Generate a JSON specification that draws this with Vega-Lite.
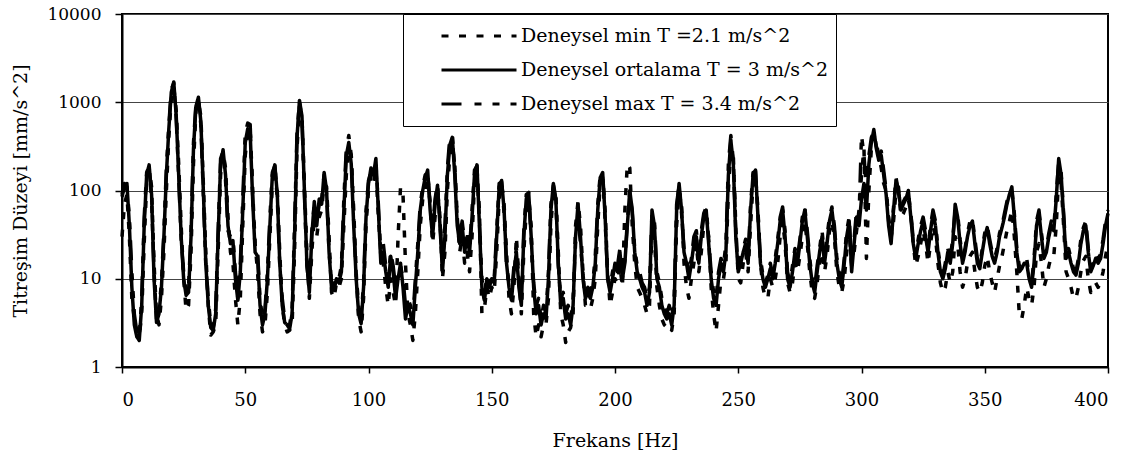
{
  "$schema": "https://vega.github.io/schema/vega-lite/v6.json",
  "width": 986,
  "height": 353,
  "autosize": {"type": "none"},
  "padding": {"left": 122, "top": 14, "right": 25, "bottom": 98},
  "background": "white",
  "config": {
    "font": "DejaVu Serif",
    "view": {"stroke": "black", "strokeWidth": 2},
    "axis": {
      "labelFont": "DejaVu Serif",
      "titleFont": "DejaVu Serif",
      "labelColor": "black",
      "titleColor": "black",
      "titleFontWeight": "normal",
      "domainColor": "black",
      "domainWidth": 2,
      "tickColor": "black",
      "tickWidth": 1.5
    }
  },
  "data": {
    "values": [
      {"f":0,"a":30,"b":85,"c":90},{"f":1,"a":70,"b":110,"c":120},{"f":2,"a":90,"b":120,"c":110},{"f":3,"a":30,"b":40,"c":50},{"f":4,"a":6,"b":8,"c":12},
      {"f":5,"a":3.5,"b":3,"c":4},{"f":6,"a":2.5,"b":2.2,"c":2.5},{"f":7,"a":2.2,"b":2,"c":2.2},{"f":8,"a":4,"b":5,"c":6},{"f":9,"a":25,"b":40,"c":50},
      {"f":10,"a":120,"b":150,"c":160},{"f":11,"a":180,"b":195,"c":190},{"f":12,"a":110,"b":90,"c":80},{"f":13,"a":15,"b":10,"c":12},{"f":14,"a":4,"b":3.2,"c":3.5},
      {"f":15,"a":3,"b":4,"c":4.5},{"f":16,"a":6,"b":8,"c":9},{"f":17,"a":20,"b":30,"c":35},{"f":18,"a":100,"b":150,"c":180},{"f":19,"a":400,"b":500,"c":550},
      {"f":20,"a":1100,"b":1300,"c":1400},{"f":21,"a":1500,"b":1700,"c":1650},{"f":22,"a":800,"b":700,"c":650},{"f":23,"a":200,"b":150,"c":140},{"f":24,"a":40,"b":30,"c":28},
      {"f":25,"a":10,"b":10,"c":12},{"f":26,"a":4.4,"b":6.5,"c":7},{"f":27,"a":5,"b":7,"c":8},{"f":28,"a":20,"b":30,"c":35},{"f":29,"a":200,"b":300,"c":350},
      {"f":30,"a":800,"b":900,"c":950},{"f":31,"a":1000,"b":1140,"c":1100},{"f":32,"a":700,"b":600,"c":550},{"f":33,"a":120,"b":100,"c":90},{"f":34,"a":20,"b":15,"c":14},
      {"f":35,"a":5,"b":5,"c":6},{"f":36,"a":2.3,"b":2.8,"c":3},{"f":37,"a":2.5,"b":2.6,"c":2.8},{"f":38,"a":3,"b":4,"c":4.5},{"f":39,"a":20,"b":30,"c":35},
      {"f":40,"a":150,"b":200,"c":230},{"f":41,"a":270,"b":290,"c":280},{"f":42,"a":180,"b":150,"c":130},{"f":43,"a":50,"b":40,"c":35},{"f":44,"a":20,"b":25,"c":30},
      {"f":45,"a":15,"b":27,"c":30},{"f":46,"a":6,"b":10,"c":12},{"f":47,"a":3,"b":5.7,"c":6},{"f":48,"a":6,"b":12,"c":15},{"f":49,"a":40,"b":60,"c":80},
      {"f":50,"a":250,"b":350,"c":450},{"f":51,"a":450,"b":500,"c":580},{"f":52,"a":500,"b":450,"c":560},{"f":53,"a":100,"b":80,"c":90},{"f":54,"a":25,"b":20,"c":22},
      {"f":55,"a":12,"b":18,"c":20},{"f":56,"a":4,"b":5,"c":6},{"f":57,"a":2.5,"b":3,"c":3.5},{"f":58,"a":3,"b":4,"c":4.5},{"f":59,"a":7,"b":10,"c":12},
      {"f":60,"a":30,"b":40,"c":50},{"f":61,"a":120,"b":150,"c":160},{"f":62,"a":180,"b":195,"c":190},{"f":63,"a":100,"b":90,"c":80},{"f":64,"a":20,"b":15,"c":14},
      {"f":65,"a":5,"b":5,"c":6},{"f":66,"a":3,"b":3.2,"c":3.5},{"f":67,"a":2.5,"b":3,"c":3.2},{"f":68,"a":2.6,"b":2.7,"c":3},{"f":69,"a":3,"b":4,"c":4.5},
      {"f":70,"a":20,"b":30,"c":40},{"f":71,"a":300,"b":400,"c":450},{"f":72,"a":900,"b":1050,"c":1000},{"f":73,"a":700,"b":700,"c":650},{"f":74,"a":120,"b":100,"c":90},
      {"f":75,"a":20,"b":15,"c":14},{"f":76,"a":6,"b":7,"c":8},{"f":77,"a":20,"b":30,"c":35},{"f":78,"a":50,"b":75,"c":70},{"f":79,"a":30,"b":40,"c":45},
      {"f":80,"a":50,"b":80,"c":70},{"f":81,"a":60,"b":70,"c":80},{"f":82,"a":120,"b":160,"c":150},{"f":83,"a":110,"b":100,"c":90},{"f":84,"a":30,"b":20,"c":20},
      {"f":85,"a":7,"b":8,"c":9},{"f":86,"a":6,"b":7.5,"c":8},{"f":87,"a":9,"b":10,"c":11},{"f":88,"a":8,"b":9,"c":10},{"f":89,"a":10,"b":12,"c":14},
      {"f":90,"a":40,"b":60,"c":80},{"f":91,"a":150,"b":250,"c":300},{"f":92,"a":300,"b":350,"c":420},{"f":93,"a":250,"b":200,"c":250},{"f":94,"a":60,"b":40,"c":45},
      {"f":95,"a":12,"b":10,"c":11},{"f":96,"a":3.5,"b":4,"c":5},{"f":97,"a":2.5,"b":3.1,"c":3.5},{"f":98,"a":6,"b":8,"c":9},{"f":99,"a":40,"b":50,"c":60},
      {"f":100,"a":100,"b":120,"c":130},{"f":101,"a":150,"b":180,"c":160},{"f":102,"a":120,"b":150,"c":180},{"f":103,"a":180,"b":230,"c":200},{"f":104,"a":50,"b":60,"c":70},
      {"f":105,"a":20,"b":15,"c":18},{"f":106,"a":15,"b":20,"c":25},{"f":107,"a":8,"b":12,"c":14},{"f":108,"a":5,"b":8,"c":10},{"f":109,"a":10,"b":18,"c":20},
      {"f":110,"a":7,"b":12,"c":14},{"f":111,"a":5,"b":6,"c":8},{"f":112,"a":30,"b":10,"c":12},{"f":113,"a":110,"b":15,"c":14},{"f":114,"a":90,"b":8,"c":10},
      {"f":115,"a":15,"b":3.5,"c":5},{"f":116,"a":4,"b":5,"c":6},{"f":117,"a":3,"b":4,"c":5},{"f":118,"a":2,"b":3,"c":3.5},{"f":119,"a":4,"b":8,"c":10},
      {"f":120,"a":12,"b":20,"c":25},{"f":121,"a":40,"b":60,"c":70},{"f":122,"a":80,"b":100,"c":110},{"f":123,"a":100,"b":140,"c":150},{"f":124,"a":150,"b":170,"c":160},
      {"f":125,"a":70,"b":60,"c":70},{"f":126,"a":25,"b":30,"c":35},{"f":127,"a":50,"b":70,"c":80},{"f":128,"a":100,"b":115,"c":120},{"f":129,"a":50,"b":40,"c":45},
      {"f":130,"a":10,"b":12,"c":15},{"f":131,"a":20,"b":30,"c":40},{"f":132,"a":100,"b":150,"c":180},{"f":133,"a":250,"b":330,"c":400},{"f":134,"a":350,"b":400,"c":430},
      {"f":135,"a":200,"b":150,"c":180},{"f":136,"a":50,"b":40,"c":45},{"f":137,"a":20,"b":25,"c":30},{"f":138,"a":30,"b":40,"c":45},{"f":139,"a":15,"b":20,"c":25},
      {"f":140,"a":20,"b":30,"c":35},{"f":141,"a":12,"b":20,"c":22},{"f":142,"a":30,"b":50,"c":60},{"f":143,"a":120,"b":150,"c":170},{"f":144,"a":180,"b":195,"c":190},
      {"f":145,"a":60,"b":40,"c":45},{"f":146,"a":4,"b":8,"c":10},{"f":147,"a":4.5,"b":5.7,"c":6},{"f":148,"a":8,"b":10,"c":11},{"f":149,"a":6,"b":8,"c":9},
      {"f":150,"a":8,"b":10,"c":11},{"f":151,"a":7,"b":9,"c":10},{"f":152,"a":20,"b":30,"c":35},{"f":153,"a":80,"b":110,"c":120},{"f":154,"a":120,"b":130,"c":125},
      {"f":155,"a":70,"b":60,"c":55},{"f":156,"a":20,"b":15,"c":14},{"f":157,"a":6,"b":8,"c":9},{"f":158,"a":4,"b":5.7,"c":6},{"f":159,"a":8,"b":12,"c":14},
      {"f":160,"a":30,"b":20,"c":22},{"f":161,"a":10,"b":8,"c":10},{"f":162,"a":4,"b":5,"c":6},{"f":163,"a":20,"b":30,"c":35},{"f":164,"a":60,"b":80,"c":90},
      {"f":165,"a":80,"b":93,"c":95},{"f":166,"a":40,"b":30,"c":28},{"f":167,"a":4,"b":8,"c":9},{"f":168,"a":2.2,"b":4,"c":5},{"f":169,"a":3,"b":5,"c":6},
      {"f":170,"a":2.2,"b":3,"c":3.5},{"f":171,"a":3,"b":4,"c":5},{"f":172,"a":3,"b":3.5,"c":4},{"f":173,"a":6,"b":10,"c":12},{"f":174,"a":40,"b":60,"c":70},
      {"f":175,"a":100,"b":120,"c":115},{"f":176,"a":90,"b":80,"c":75},{"f":177,"a":20,"b":15,"c":14},{"f":178,"a":4,"b":5,"c":6},{"f":179,"a":3,"b":6,"c":7},
      {"f":180,"a":1.9,"b":3.5,"c":4},{"f":181,"a":2.5,"b":4,"c":5},{"f":182,"a":2.8,"b":3,"c":3.5},{"f":183,"a":4,"b":5,"c":6},{"f":184,"a":40,"b":30,"c":25},
      {"f":185,"a":75,"b":70,"c":50},{"f":186,"a":40,"b":30,"c":25},{"f":187,"a":12,"b":10,"c":11},{"f":188,"a":5,"b":6,"c":7},{"f":189,"a":5,"b":7,"c":8},
      {"f":190,"a":4.5,"b":6,"c":7},{"f":191,"a":6,"b":8,"c":9},{"f":192,"a":10,"b":15,"c":18},{"f":193,"a":40,"b":60,"c":70},{"f":194,"a":120,"b":140,"c":150},
      {"f":195,"a":140,"b":160,"c":150},{"f":196,"a":60,"b":50,"c":45},{"f":197,"a":12,"b":10,"c":11},{"f":198,"a":5,"b":7,"c":8},{"f":199,"a":7,"b":10,"c":12},
      {"f":200,"a":10,"b":15,"c":16},{"f":201,"a":9,"b":12,"c":14},{"f":202,"a":14,"b":20,"c":22},{"f":203,"a":8,"b":10,"c":12},{"f":204,"a":60,"b":15,"c":16},
      {"f":205,"a":200,"b":40,"c":45},{"f":206,"a":180,"b":100,"c":95},{"f":207,"a":40,"b":60,"c":55},{"f":208,"a":15,"b":20,"c":22},{"f":209,"a":8,"b":12,"c":14},
      {"f":210,"a":7,"b":10,"c":12},{"f":211,"a":6,"b":8,"c":9},{"f":212,"a":5,"b":7,"c":8},{"f":213,"a":4,"b":5,"c":6},{"f":214,"a":5,"b":7,"c":8},
      {"f":215,"a":40,"b":60,"c":55},{"f":216,"a":30,"b":40,"c":45},{"f":217,"a":8,"b":10,"c":12},{"f":218,"a":5,"b":8,"c":9},{"f":219,"a":3.5,"b":5,"c":6},
      {"f":220,"a":3,"b":4,"c":5},{"f":221,"a":2.8,"b":3.5,"c":4},{"f":222,"a":3,"b":4,"c":5},{"f":223,"a":2.6,"b":3,"c":3.5},{"f":224,"a":4,"b":5,"c":6},
      {"f":225,"a":40,"b":60,"c":70},{"f":226,"a":100,"b":120,"c":115},{"f":227,"a":70,"b":60,"c":55},{"f":228,"a":15,"b":20,"c":22},{"f":229,"a":8,"b":15,"c":16},
      {"f":230,"a":6,"b":10,"c":12},{"f":231,"a":10,"b":15,"c":17},{"f":232,"a":15,"b":25,"c":30},{"f":233,"a":25,"b":30,"c":35},{"f":234,"a":12,"b":15,"c":18},
      {"f":235,"a":20,"b":30,"c":35},{"f":236,"a":40,"b":50,"c":55},{"f":237,"a":50,"b":60,"c":65},{"f":238,"a":30,"b":25,"c":28},{"f":239,"a":8,"b":10,"c":12},
      {"f":240,"a":4,"b":6,"c":7},{"f":241,"a":2.5,"b":5,"c":6},{"f":242,"a":5,"b":10,"c":12},{"f":243,"a":10,"b":15,"c":17},{"f":244,"a":10,"b":12,"c":14},
      {"f":245,"a":15,"b":20,"c":25},{"f":246,"a":100,"b":150,"c":200},{"f":247,"a":300,"b":370,"c":420},{"f":248,"a":250,"b":200,"c":220},{"f":249,"a":40,"b":30,"c":35},
      {"f":250,"a":10,"b":12,"c":14},{"f":251,"a":9,"b":15,"c":17},{"f":252,"a":15,"b":20,"c":22},{"f":253,"a":20,"b":25,"c":28},{"f":254,"a":12,"b":15,"c":17},
      {"f":255,"a":40,"b":60,"c":70},{"f":256,"a":120,"b":150,"c":160},{"f":257,"a":150,"b":170,"c":165},{"f":258,"a":60,"b":50,"c":55},{"f":259,"a":15,"b":15,"c":17},
      {"f":260,"a":8,"b":10,"c":11},{"f":261,"a":6,"b":8,"c":9},{"f":262,"a":6,"b":10,"c":11},{"f":263,"a":10,"b":13,"c":15},{"f":264,"a":8,"b":10,"c":11},
      {"f":265,"a":10,"b":15,"c":17},{"f":266,"a":15,"b":25,"c":28},{"f":267,"a":30,"b":45,"c":50},{"f":268,"a":45,"b":60,"c":65},{"f":269,"a":25,"b":30,"c":35},
      {"f":270,"a":9,"b":10,"c":12},{"f":271,"a":7,"b":8,"c":9},{"f":272,"a":9,"b":12,"c":14},{"f":273,"a":15,"b":20,"c":22},{"f":274,"a":12,"b":15,"c":17},
      {"f":275,"a":18,"b":25,"c":28},{"f":276,"a":30,"b":45,"c":50},{"f":277,"a":45,"b":60,"c":65},{"f":278,"a":25,"b":30,"c":35},{"f":279,"a":12,"b":15,"c":17},
      {"f":280,"a":7,"b":9,"c":10},{"f":281,"a":6,"b":7,"c":8},{"f":282,"a":9,"b":12,"c":14},{"f":283,"a":15,"b":20,"c":22},{"f":284,"a":20,"b":30,"c":35},
      {"f":285,"a":12,"b":15,"c":18},{"f":286,"a":18,"b":25,"c":30},{"f":287,"a":35,"b":45,"c":50},{"f":288,"a":45,"b":60,"c":65},{"f":289,"a":30,"b":35,"c":40},
      {"f":290,"a":12,"b":15,"c":17},{"f":291,"a":8,"b":10,"c":12},{"f":292,"a":7,"b":8,"c":9},{"f":293,"a":10,"b":15,"c":17},{"f":294,"a":20,"b":30,"c":35},
      {"f":295,"a":35,"b":45,"c":50},{"f":296,"a":15,"b":12,"c":14},{"f":297,"a":20,"b":25,"c":28},{"f":298,"a":35,"b":50,"c":60},{"f":299,"a":60,"b":40,"c":50},
      {"f":300,"a":150,"b":80,"c":420},{"f":301,"a":300,"b":120,"c":250},{"f":302,"a":17,"b":60,"c":100},{"f":303,"a":100,"b":200,"c":250},{"f":304,"a":300,"b":350,"c":400},
      {"f":305,"a":420,"b":490,"c":460},{"f":306,"a":350,"b":300,"c":320},{"f":307,"a":250,"b":220,"c":240},{"f":308,"a":180,"b":250,"c":280},{"f":309,"a":120,"b":150,"c":170},
      {"f":310,"a":100,"b":90,"c":100},{"f":311,"a":50,"b":40,"c":45},{"f":312,"a":30,"b":25,"c":28},{"f":313,"a":45,"b":60,"c":65},{"f":314,"a":100,"b":130,"c":140},
      {"f":315,"a":110,"b":100,"c":95},{"f":316,"a":50,"b":60,"c":65},{"f":317,"a":55,"b":70,"c":75},{"f":318,"a":65,"b":80,"c":85},{"f":319,"a":80,"b":100,"c":95},
      {"f":320,"a":55,"b":50,"c":55},{"f":321,"a":25,"b":25,"c":28},{"f":322,"a":14,"b":17,"c":19},{"f":323,"a":18,"b":25,"c":28},{"f":324,"a":25,"b":35,"c":40},
      {"f":325,"a":35,"b":45,"c":50},{"f":326,"a":25,"b":30,"c":35},{"f":327,"a":15,"b":20,"c":22},{"f":328,"a":25,"b":35,"c":40},{"f":329,"a":40,"b":55,"c":60},
      {"f":330,"a":30,"b":40,"c":45},{"f":331,"a":15,"b":20,"c":22},{"f":332,"a":9,"b":12,"c":14},{"f":333,"a":7,"b":10,"c":11},{"f":334,"a":8,"b":13,"c":15},
      {"f":335,"a":12,"b":20,"c":22},{"f":336,"a":9,"b":15,"c":17},{"f":337,"a":12,"b":25,"c":28},{"f":338,"a":30,"b":70,"c":60},{"f":339,"a":25,"b":50,"c":55},
      {"f":340,"a":12,"b":25,"c":28},{"f":341,"a":8,"b":15,"c":17},{"f":342,"a":10,"b":20,"c":22},{"f":343,"a":15,"b":30,"c":33},{"f":344,"a":18,"b":40,"c":45},
      {"f":345,"a":20,"b":45,"c":48},{"f":346,"a":12,"b":25,"c":28},{"f":347,"a":8,"b":15,"c":17},{"f":348,"a":7,"b":13,"c":14},{"f":349,"a":9,"b":20,"c":22},
      {"f":350,"a":14,"b":30,"c":33},{"f":351,"a":18,"b":38,"c":40},{"f":352,"a":12,"b":25,"c":28},{"f":353,"a":9,"b":18,"c":20},{"f":354,"a":7,"b":15,"c":17},
      {"f":355,"a":10,"b":20,"c":22},{"f":356,"a":14,"b":30,"c":33},{"f":357,"a":18,"b":38,"c":40},{"f":358,"a":25,"b":50,"c":55},{"f":359,"a":35,"b":70,"c":75},
      {"f":360,"a":45,"b":90,"c":95},{"f":361,"a":60,"b":110,"c":100},{"f":362,"a":30,"b":50,"c":55},{"f":363,"a":12,"b":20,"c":22},{"f":364,"a":4,"b":12,"c":14},
      {"f":365,"a":3.5,"b":13,"c":15},{"f":366,"a":5,"b":15,"c":17},{"f":367,"a":8,"b":15,"c":17},{"f":368,"a":6,"b":10,"c":11},{"f":369,"a":5,"b":8,"c":9},
      {"f":370,"a":8,"b":15,"c":17},{"f":371,"a":20,"b":40,"c":45},{"f":372,"a":25,"b":55,"c":60},{"f":373,"a":15,"b":30,"c":33},{"f":374,"a":8,"b":17,"c":19},
      {"f":375,"a":10,"b":20,"c":22},{"f":376,"a":14,"b":30,"c":33},{"f":377,"a":18,"b":40,"c":45},{"f":378,"a":18,"b":35,"c":38},{"f":379,"a":40,"b":80,"c":90},
      {"f":380,"a":150,"b":230,"c":210},{"f":381,"a":120,"b":150,"c":160},{"f":382,"a":40,"b":50,"c":55},{"f":383,"a":12,"b":17,"c":19},{"f":384,"a":10,"b":20,"c":22},
      {"f":385,"a":8,"b":15,"c":17},{"f":386,"a":6,"b":12,"c":13},{"f":387,"a":6,"b":11,"c":12},{"f":388,"a":8,"b":15,"c":17},{"f":389,"a":12,"b":25,"c":28},
      {"f":390,"a":16,"b":35,"c":38},{"f":391,"a":18,"b":40,"c":45},{"f":392,"a":10,"b":20,"c":22},{"f":393,"a":7,"b":12,"c":14},{"f":394,"a":8,"b":14,"c":15},
      {"f":395,"a":9,"b":17,"c":19},{"f":396,"a":8,"b":15,"c":17},{"f":397,"a":9,"b":17,"c":19},{"f":398,"a":12,"b":25,"c":28},{"f":399,"a":18,"b":40,"c":45},
      {"f":400,"a":25,"b":55,"c":60}
    ]
  },
  "transform": [{"fold": ["a", "b", "c"], "as": ["s", "v"]}],
  "mark": {"type": "line", "color": "black", "strokeWidth": 3.5, "strokeJoin": "round", "strokeCap": "butt"},
  "encoding": {
    "x": {
      "field": "f", "type": "quantitative",
      "scale": {"domain": [0, 400], "nice": false, "zero": false},
      "axis": {
        "values": [0, 50, 100, 150, 200, 250, 300, 350, 400],
        "grid": false, "labelFontSize": 18, "tickSize": 6, "labelPadding": 18,
        "title": "Frekans [Hz]", "titleFontSize": 19, "titlePadding": 22
      }
    },
    "y": {
      "field": "v", "type": "quantitative",
      "scale": {"type": "log", "domain": [1, 10000], "nice": false},
      "axis": {
        "values": [1, 10, 100, 1000, 10000], "format": "d",
        "grid": true, "gridColor": "#444", "gridWidth": 1.2,
        "labelFontSize": 17, "tickSize": 7, "labelPadding": 14,
        "title": "Titreşim Düzeyi [mm/s^2]", "titleFontSize": 19, "titlePadding": 16
      }
    },
    "strokeDash": {
      "field": "s", "type": "nominal",
      "scale": {"domain": ["a", "b", "c"], "range": [[7, 10.5], [1, 0], [20, 13, 7, 11, 7, 11]]},
      "legend": {
        "orient": "none", "legendX": 281, "legendY": 0,
        "title": null,
        "labelExpr": "datum.label == 'a' ? 'Deneysel min T =2.1 m/s^2' : datum.label == 'b' ? 'Deneysel ortalama T = 3 m/s^2' : 'Deneysel max T = 3.4 m/s^2'",
        "labelFont": "DejaVu Serif", "labelFontSize": 19, "labelColor": "black", "labelLimit": 0,
        "symbolType": "stroke", "symbolSize": 5625, "symbolStrokeWidth": 3, "symbolStrokeColor": "black",
        "clipHeight": 30, "rowPadding": 4, "padding": 7, "symbolOffset": 30, "labelOffset": 3,
        "strokeColor": "black", "fillColor": "white", "cornerRadius": 0
      }
    }
  }
}
